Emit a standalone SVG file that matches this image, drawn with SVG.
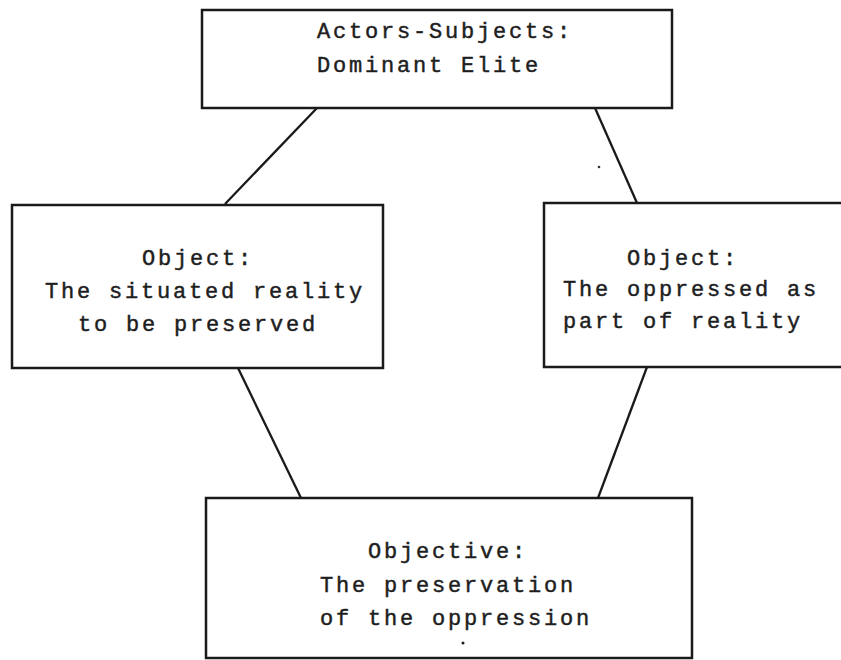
<svg xmlns="http://www.w3.org/2000/svg" width="841" height="660" viewBox="0 0 841 660">
<style>
.box{fill:#fff;stroke:#1a1a1a;stroke-width:2.5}
.t{font-family:"Liberation Mono","Courier New",monospace;font-size:22px;letter-spacing:2.8px;fill:#1e1e1e;stroke:#1e1e1e;stroke-width:0.45}
.c{stroke:#1a1a1a;stroke-width:2.3;fill:none}
</style>
<rect width="841" height="660" fill="#fff"/>
<g id="connectors">
<line class="c" x1="317" y1="108" x2="225" y2="204"/>
<line class="c" x1="595" y1="108" x2="637" y2="203"/>
<line class="c" x1="238" y1="368" x2="301" y2="498"/>
<line class="c" x1="647" y1="367" x2="598" y2="498"/>
</g>
<g id="actors">
<rect class="box" x="202" y="10" width="470" height="98"/>
<text class="t" x="317" y="38">Actors-Subjects:</text>
<text class="t" x="317" y="72">Dominant Elite</text>
</g>
<g id="object-left">
<rect class="box" x="12" y="205" width="371" height="163"/>
<text class="t" x="142" y="265">Object:</text>
<text class="t" x="45" y="298">The situated reality</text>
<text class="t" x="78" y="331">to be preserved</text>
</g>
<g id="object-right">
<rect class="box" x="544" y="203" width="310" height="164"/>
<text class="t" x="627" y="265">Object:</text>
<text class="t" x="563" y="296">The oppressed as</text>
<text class="t" x="563" y="328">part of reality</text>
</g>
<g id="objective">
<rect class="box" x="206" y="498" width="486" height="160"/>
<text class="t" x="368" y="558">Objective:</text>
<text class="t" x="320" y="592">The preservation</text>
<text class="t" x="320" y="625">of the oppression</text>
<circle cx="463" cy="643" r="1.5" fill="#1e1e1e"/>
</g>
<circle cx="599" cy="167" r="1.3" fill="#333"/>
</svg>
